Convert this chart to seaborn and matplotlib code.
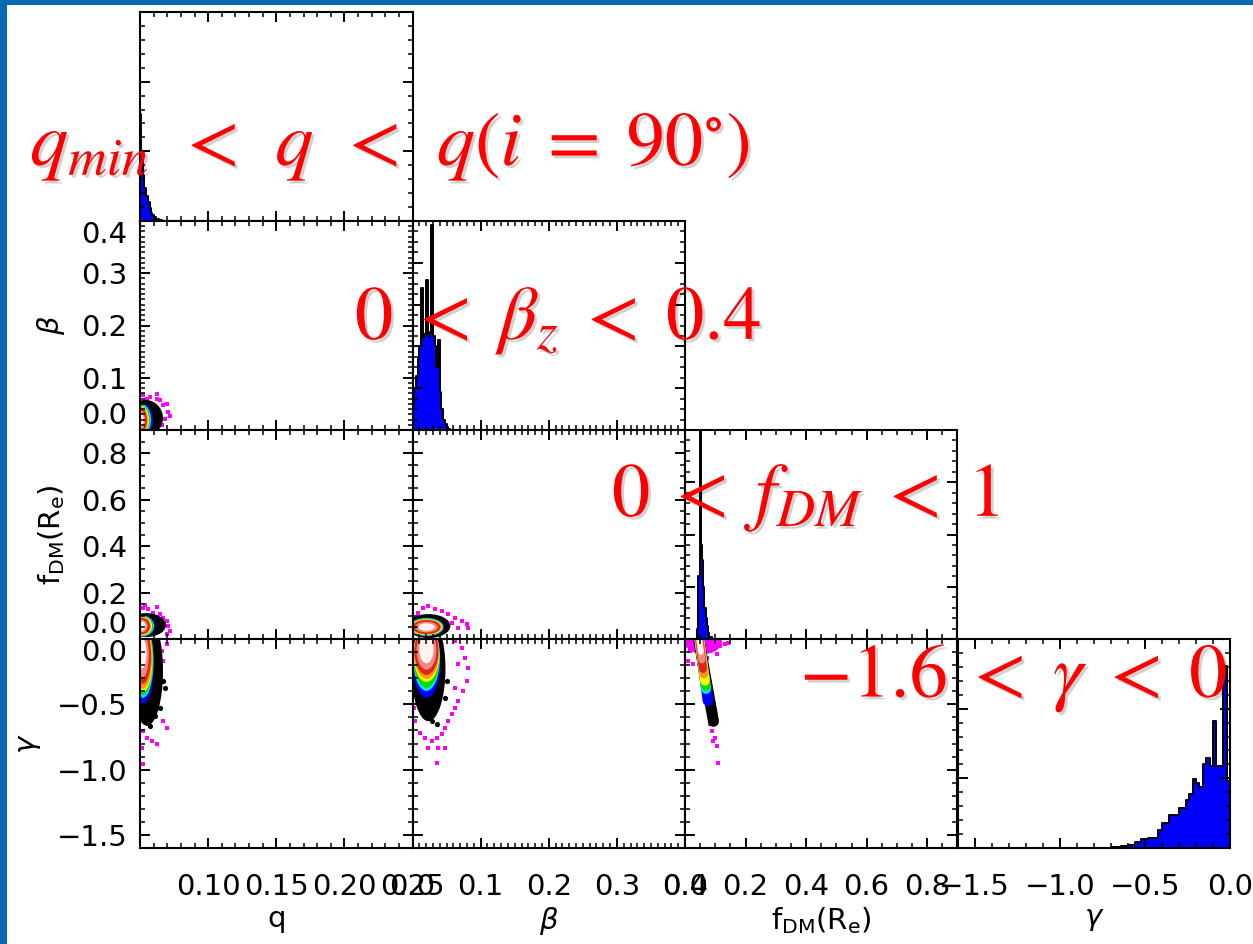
import numpy as np
import matplotlib
matplotlib.use("Agg")
import matplotlib.pyplot as plt
import matplotlib.patheffects as pe
from matplotlib.patches import Ellipse, Rectangle
from matplotlib.ticker import MultipleLocator, FixedLocator, FixedFormatter
import seaborn as sns

# ---------------- data ----------------
params = ["q", "beta", "fdm", "gamma"]
axis_labels = {"q": "q", "beta": r"$\beta$", "fdm": r"$\mathregular{f_{DM}(R_e)}$", "gamma": r"$\gamma$"}
ranges = {"q": (0.05, 0.25), "beta": (0.0, 0.4), "fdm": (0.0, 0.9), "gamma": (-1.6, 0.0)}
major_ticks = {"q": [0.10, 0.15, 0.20, 0.25], "beta": [0.0, 0.1, 0.2, 0.3, 0.4],
               "fdm": [0.0, 0.2, 0.4, 0.6, 0.8], "gamma": [-1.5, -1.0, -0.5, 0.0]}
tick_text = {"q": ["0.10", "0.15", "0.20", "0.25"], "beta": ["0.0", "0.1", "0.2", "0.3", "0.4"],
             "fdm": ["0.0", "0.2", "0.4", "0.6", "0.8"], "gamma": ["\u22121.5", "\u22121.0", "\u22120.5", "0.0"]}
minor_step = {"q": 0.01, "beta": 0.01, "fdm": 0.05, "gamma": 0.1}

# 1-D marginal histograms (bin edges, heights as fraction of panel height)
q_edges = [0.050, 0.0508, 0.052, 0.053, 0.0545, 0.056, 0.057, 0.058, 0.059, 0.060, 0.062, 0.064, 0.066]
q_heights = [0.51, 0.32, 0.22, 0.16, 0.12, 0.09, 0.06, 0.04, 0.03, 0.02, 0.01, 0.004]

beta_edges = [0.0, 0.0025, 0.005, 0.0075, 0.01, 0.0125, 0.015, 0.0175, 0.02, 0.0225, 0.025, 0.0275,
              0.03, 0.0325, 0.035, 0.0375, 0.04, 0.0425, 0.045, 0.0475, 0.05, 0.0525, 0.055]
beta_heights = [0.12, 0.20, 0.26, 0.34, 0.40, 0.68, 0.44, 0.46, 0.72, 0.45, 0.47, 0.98, 0.45, 0.40,
                0.30, 0.43, 0.18, 0.10, 0.05, 0.03, 0.015, 0.005]

fdm_edges = [0.040, 0.044, 0.048, 0.052, 0.056, 0.060, 0.064, 0.068, 0.072, 0.076, 0.080, 0.090]
fdm_heights = [0.05, 0.30, 1.20, 0.45, 0.38, 0.25, 0.15, 0.10, 0.06, 0.03, 0.01]

gamma_edges = [-0.70, -0.68, -0.66, -0.64, -0.62, -0.60, -0.58, -0.56, -0.54, -0.52, -0.50, -0.48,
               -0.46, -0.44, -0.42, -0.40, -0.38, -0.36, -0.34, -0.32, -0.30, -0.28, -0.26, -0.24,
               -0.22, -0.20, -0.18, -0.16, -0.14, -0.12, -0.10, -0.08, -0.06, -0.04, -0.02, 0.00]
gamma_heights = [0.003, 0.005, 0.005, 0.008, 0.01, 0.012, 0.015, 0.03, 0.03, 0.045, 0.045, 0.05,
                 0.05, 0.05, 0.085, 0.12, 0.12, 0.16, 0.16, 0.16, 0.19, 0.19, 0.23, 0.26, 0.33,
                 0.31, 0.29, 0.40, 0.43, 0.39, 0.61, 0.39, 0.39, 0.87, 0.32]

hists = {"q": (q_edges, q_heights), "beta": (beta_edges, beta_heights),
         "fdm": (fdm_edges, fdm_heights), "gamma": (gamma_edges, gamma_heights)}

# 2-D density levels, outer -> inner: (centre x, centre y, half-width x, half-width y)
level_colors = ["#000000", "#0000FF", "#00E8FF", "#00DD00", "#FFFF00", "#FF9900", "#E02418", "#F08A80", "#FFF2F0"]
blob_q_beta = [(0.0537, 0.023, 0.0132, 0.0346), (0.0507, 0.0192, 0.0088, 0.0327),
               (0.0507, 0.0192, 0.0074, 0.0308), (0.0507, 0.0192, 0.0066, 0.0288),
               (0.0507, 0.0192, 0.0059, 0.0269), (0.0507, 0.0192, 0.0051, 0.0250),
               (0.0507, 0.0192, 0.0044, 0.0231), (0.0507, 0.0192, 0.0030, 0.0185),
               (0.0507, 0.0192, 0.0020, 0.0140)]
blob_q_fdm = [(0.0544, 0.060, 0.0147, 0.0515), (0.0515, 0.0558, 0.0096, 0.0472),
              (0.0515, 0.0558, 0.0088, 0.0450), (0.0515, 0.0558, 0.0081, 0.0429),
              (0.0515, 0.0558, 0.0074, 0.0408), (0.0515, 0.0558, 0.0066, 0.0386),
              (0.0515, 0.0558, 0.0059, 0.0343), (0.0515, 0.0558, 0.0040, 0.0270),
              (0.0515, 0.0558, 0.0027, 0.0195)]
blob_q_gamma = [(0.0551, -0.244, 0.0118, 0.420), (0.0522, -0.183, 0.0081, 0.313),
                (0.0522, -0.168, 0.0077, 0.282), (0.0522, -0.160, 0.0074, 0.267),
                (0.0522, -0.153, 0.0070, 0.252), (0.0522, -0.145, 0.0066, 0.237),
                (0.0522, -0.130, 0.0059, 0.214), (0.0518, -0.125, 0.0047, 0.170),
                (0.0515, -0.110, 0.0033, 0.115)]
blob_beta_fdm = [(0.0234, 0.0558, 0.0322, 0.0515), (0.0205, 0.0515, 0.0264, 0.0408),
                 (0.0205, 0.0515, 0.0249, 0.0386), (0.0205, 0.0515, 0.0242, 0.0365),
                 (0.0205, 0.0515, 0.0234, 0.0343), (0.0205, 0.0515, 0.0220, 0.0322),
                 (0.0205, 0.0515, 0.0205, 0.0300), (0.0205, 0.0515, 0.0165, 0.0230),
                 (0.0205, 0.0515, 0.0120, 0.0160)]
blob_beta_gamma = [(0.0234, -0.229, 0.0250, 0.400), (0.0205, -0.168, 0.0205, 0.282),
                   (0.0205, -0.145, 0.0198, 0.252), (0.0205, -0.137, 0.0190, 0.237),
                   (0.0205, -0.1145, 0.0190, 0.214), (0.0205, -0.107, 0.0183, 0.198),
                   (0.0205, -0.0916, 0.0176, 0.183), (0.0205, -0.085, 0.0145, 0.150),
                   (0.0205, -0.0763, 0.0105, 0.110)]
# narrow tilted streak: (x start, y start, x end, y end)
streak_fdm_gamma = [(0.0462, -0.015, 0.0940, -0.630), (0.0462, 0.015, 0.0759, -0.473),
                    (0.0462, 0.015, 0.0693, -0.382), (0.0462, 0.015, 0.0693, -0.359),
                    (0.0462, 0.015, 0.0660, -0.321), (0.0462, 0.015, 0.0627, -0.267),
                    (0.0462, 0.015, 0.0594, -0.229), (0.0462, 0.015, 0.0560, -0.160),
                    (0.0462, 0.015, 0.0528, -0.100)]
streak_halo_fdm_gamma = (0.060, -0.020, 0.062, 0.095)

# sparse outlying samples (magenta) and black fringe samples
mag_q_beta_x = [0.0522, 0.0574, 0.0625, 0.0669, 0.0698, 0.0706, 0.0684, 0.0662, 0.0625, 0.0551, 0.0721, 0.0647]
mag_q_beta_y = [0.0673, 0.0635, 0.0596, 0.0481, 0.0500, 0.0346, 0.0212, 0.0096, 0.0692, 0.0596, 0.0269, 0.0577]
mag_q_fdm_x = [0.0522, 0.0559, 0.0596, 0.0647, 0.0669, 0.0698, 0.0706, 0.0721, 0.0698, 0.0625, 0.0537]
mag_q_fdm_y = [0.133, 0.129, 0.112, 0.107, 0.090, 0.077, 0.056, 0.034, 0.021, 0.137, 0.146]
mag_q_gamma_x = [0.0522, 0.0551, 0.0588, 0.0625, 0.0515, 0.0559, 0.0669, 0.0698, 0.0662, 0.0669, 0.0698, 0.0632, 0.0522]
mag_q_gamma_y = [-0.702, -0.756, -0.779, -0.802, -0.832, -0.649, -0.626, -0.679, -0.092, -0.168, -0.038, -0.244, -0.954]
blk_q_gamma_x = [0.0669, 0.0647, 0.0684, 0.0574, 0.0610]
blk_q_gamma_y = [-0.321, -0.527, -0.374, -0.664, -0.588]
mag_beta_fdm_x = [0.0147, 0.0234, 0.0337, 0.0440, 0.0527, 0.0630, 0.0732, 0.0806, 0.0820, 0.0674, 0.0586, 0.0088]
mag_beta_fdm_y = [0.133, 0.142, 0.129, 0.120, 0.107, 0.090, 0.077, 0.064, 0.047, 0.047, 0.069, 0.112]
mag_beta_gamma_x = [0.0630, 0.0732, 0.0776, 0.0820, 0.0806, 0.0747, 0.0674, 0.0630, 0.0586, 0.0527, 0.0483, 0.0440,
                    0.0366, 0.0293, 0.0190, 0.0117, 0.0044, 0.0015, 0.0381, 0.0483, 0.0234, 0.0366, 0.0674, 0.0630]
mag_beta_gamma_y = [-0.015, -0.069, -0.145, -0.221, -0.321, -0.397, -0.473, -0.527, -0.573, -0.626, -0.679, -0.725,
                    -0.756, -0.779, -0.756, -0.718, -0.626, -0.527, -0.832, -0.832, -0.832, -0.947, -0.191, -0.374]
blk_beta_gamma_x = [0.0044, 0.0088, 0.0190, 0.0293, 0.0366, 0.0483, 0.0513]
blk_beta_gamma_y = [-0.374, -0.473, -0.573, -0.626, -0.649, -0.450, -0.321]
mag_fdm_gamma_x = [0.0066, 0.0165, 0.0099, 0.0264, 0.0924, 0.1155, 0.1320, 0.1419, 0.1056, 0.0825, 0.0726,
                   0.0891, 0.0990, 0.1056, 0.0924, 0.1089, 0.0825]
mag_fdm_gamma_y = [-0.038, -0.092, -0.168, -0.191, -0.038, -0.053, -0.038, -0.031, -0.115, -0.092, -0.145,
                   -0.702, -0.756, -0.817, -0.779, -0.947, -0.649]

blobs = {("q", "beta"): blob_q_beta, ("q", "fdm"): blob_q_fdm, ("q", "gamma"): blob_q_gamma,
         ("beta", "fdm"): blob_beta_fdm, ("beta", "gamma"): blob_beta_gamma}
mags = {("q", "beta"): (mag_q_beta_x, mag_q_beta_y), ("q", "fdm"): (mag_q_fdm_x, mag_q_fdm_y),
        ("q", "gamma"): (mag_q_gamma_x, mag_q_gamma_y), ("beta", "fdm"): (mag_beta_fdm_x, mag_beta_fdm_y),
        ("beta", "gamma"): (mag_beta_gamma_x, mag_beta_gamma_y), ("fdm", "gamma"): (mag_fdm_gamma_x, mag_fdm_gamma_y)}
blacks = {("q", "gamma"): (blk_q_gamma_x, blk_q_gamma_y), ("beta", "gamma"): (blk_beta_gamma_x, blk_beta_gamma_y)}

hist_major = {"q": 1 / 3, "beta": 0.2, "fdm": 0.25, "gamma": 1 / 3}
hist_minor = {"q": 1 / 15, "beta": 0.05, "fdm": 0.05, "gamma": 1 / 15}

overlay_texts = [r"$q_{min}\;\,<\;\,q\;\,<\;\,q(i\;=\;90^{\circ})$", r"$0\;<\;\beta_z\;<\;0.4$",
                 r"$0\;<\;f_{DM}\;<\;1$", r"$-1.6\;<\;\gamma\;<\;0$"]

# ---------------- style ----------------
sns.set_style("ticks")
plt.rcParams["font.family"] = ["DejaVu Sans"]
plt.rcParams["mathtext.fontset"] = "dejavusans"
plt.rcParams["axes.unicode_minus"] = True
for k in ["text.color", "axes.labelcolor", "xtick.color", "ytick.color", "axes.edgecolor"]:
    plt.rcParams[k] = "black"

W, H = 1253, 944
fig = plt.figure(figsize=(W / 100, H / 100), dpi=100)
fig.patch.set_facecolor("white")

# slide frame
fig.add_artist(Rectangle((0, 0), 7 / W, 1, transform=fig.transFigure, facecolor="#0969B2", edgecolor="none", zorder=0))
fig.add_artist(Rectangle((0, 1 - 5 / H), 1, 5 / H, transform=fig.transFigure, facecolor="#0969B2", edgecolor="none", zorder=0))

col_left = [140, 412.5, 685, 957.5]
col_w = 272.5
row_top = [12, 221, 430, 639]
row_h = 209
TICK_FS = 21
LABEL_FS = 21


def set_axis(axis, p, show_labels):
    axis.set_major_locator(FixedLocator(major_ticks[p]))
    axis.set_major_formatter(FixedFormatter(tick_text[p]) if show_labels else FixedFormatter([""] * len(major_ticks[p])))
    axis.set_minor_locator(MultipleLocator(minor_step[p]))


for i, yp in enumerate(params):
    for j, xp in enumerate(params[: i + 1]):
        rect = [col_left[j] / W, 1 - (row_top[i] + row_h) / H, col_w / W, row_h / H]
        ax = fig.add_axes(rect)
        ax.set_facecolor("white")
        ax.set_axisbelow(False)
        ax.set_xlim(ranges[xp])
        bottom = i == 3
        left = j == 0
        set_axis(ax.xaxis, xp, bottom)
        if i == j:
            edges, heights = hists[xp]
            centers = (np.array(edges[:-1]) + np.array(edges[1:])) / 2
            sns.histplot(x=centers, weights=heights, bins=edges, element="step", fill=True,
                         color="#0000FF", alpha=1, edgecolor="black", linewidth=1.4, ax=ax)
            ax.set_ylim(0, 1)
            ax.yaxis.set_major_locator(MultipleLocator(hist_major[xp]))
            ax.yaxis.set_minor_locator(MultipleLocator(hist_minor[xp]))
            ax.set_yticklabels([])
        else:
            ax.set_ylim(ranges[yp])
            set_axis(ax.yaxis, yp, left)
            key = (xp, yp)
            if key in blobs:
                for (cx, cy, rx, ry), c in zip(blobs[key], level_colors):
                    ax.add_patch(Ellipse((cx, cy), 2 * rx, 2 * ry, facecolor=c, edgecolor="none", zorder=1))
            if key == ("fdm", "gamma"):
                cx, cy, rx, ry = streak_halo_fdm_gamma
                ax.add_patch(Ellipse((cx, cy), 2 * rx, 2 * ry, facecolor="#FF00FF", edgecolor="none", zorder=0.8))
                widths = [8.0, 7.6, 7.2, 7.0, 6.8, 6.5, 5.8, 5.0, 4.0]
                for (x1, y1, x2, y2), c, w in zip(streak_fdm_gamma, level_colors, widths):
                    ax.plot([x1, x2], [y1, y2], color=c, lw=w, solid_capstyle="round", zorder=1)
            mx, my = mags[key]
            sns.scatterplot(x=mx, y=my, color="#FF00FF", marker="s", s=9, linewidth=0, ax=ax, zorder=0.9)
            if key in blacks:
                bx, by = blacks[key]
                sns.scatterplot(x=bx, y=by, color="black", marker="o", s=14, linewidth=0, ax=ax, zorder=0.95)
        ax.set_xlabel(axis_labels[xp] if bottom else "", fontsize=LABEL_FS, labelpad=3)
        ax.set_ylabel(axis_labels[yp] if (left and i > 0) else "", fontsize=LABEL_FS, labelpad=10)
        ax.tick_params(which="both", direction="in", top=True, right=True, color="black", width=1.4)
        ax.tick_params(which="major", length=7)
        ax.tick_params(which="minor", length=3.6, width=1.1)
        ax.tick_params(axis="x", which="major", pad=18, labelsize=TICK_FS)
        ax.tick_params(axis="y", which="major", pad=9, labelsize=TICK_FS)
        for s in ax.spines.values():
            s.set_linewidth(1.5)
            s.set_color("black")
            s.set_zorder(3)
        # IDL-style: edge labels nudged inside the panel height
        if left and i > 0:
            labs = ax.yaxis.get_majorticklabels()
            ylo, yhi = ranges[yp]
            for lab, v in zip(labs, major_ticks[yp]):
                if abs(v - ylo) < 1e-9:
                    lab.set_verticalalignment("bottom")
                elif abs(v - yhi) < 1e-9:
                    lab.set_verticalalignment("top")

# red overlay annotations
shadow = [pe.withSimplePatchShadow(offset=(2, -2), shadow_rgbFace="black", alpha=0.18)]
text_pos = [(30, 146), (355, 320), (612, 497), (800, 678)]
for txt, (x, y) in zip(overlay_texts, text_pos):
    fig.text(x / W, 1 - y / H, txt, color="#FF0000", fontsize=55, ha="left", va="center",
             math_fontfamily="stix", path_effects=shadow, zorder=10)

fig.savefig("out.png", dpi=100, facecolor="white")
